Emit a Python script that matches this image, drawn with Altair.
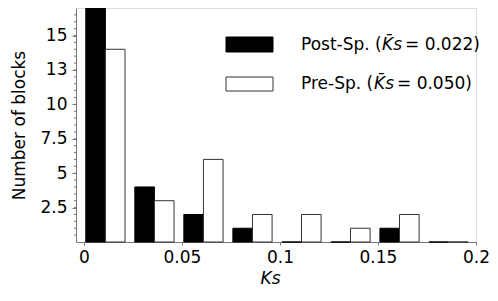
import altair as alt
import pandas as pd

# ---- data ----
bin_starts = [0.0, 0.025, 0.05, 0.075, 0.1, 0.125, 0.15, 0.175]
post_counts = [17, 4, 2, 1, 0, 0, 1, 0]
pre_counts = [14, 3, 6, 2, 2, 1, 2, 0]
series_names = ["Post-Sp.", "Pre-Sp."]
legend_means = ["0.022", "0.050"]
x_ticks = [0, 0.05, 0.1, 0.15, 0.2]
y_ticks = [2.5, 5, 7.5, 10, 12.5, 15]
y_minor = [v / 2 for v in range(1, 34)]

FONT = "DejaVu Sans"
FS = 17
AX = "#777777"

rows = []
for b, c in zip(bin_starts, post_counts):
    rows.append({"series": series_names[0], "x0": b + 0.001, "x1": b + 0.011, "count": c})
for b, c in zip(bin_starts, pre_counts):
    rows.append({"series": series_names[1], "x0": b + 0.011, "x1": b + 0.021, "count": c})
df = pd.DataFrame(rows)

xscale = alt.Scale(domain=[-0.004, 0.2], nice=False, zero=False)
yscale = alt.Scale(domain=[0, 17], nice=False)

bars = alt.Chart(df).mark_rect(strokeWidth=1).encode(
    x=alt.X("x0:Q", scale=xscale, axis=alt.Axis(
        values=x_ticks, format="~g", title="Ks", titleFontStyle="italic",
        titleFont=FONT, titleFontSize=FS, titleFontWeight="normal", titleColor="black",
        titleX=194, titleY=36, titleBaseline="middle",
        labelFont=FONT, labelFontSize=FS, labelColor="black", labelPadding=4,
        tickSize=3, tickColor=AX, domainColor=AX, grid=False,
        labelFlush=False, labelOverlap=False)),
    x2="x1:Q",
    y=alt.Y("count:Q", scale=yscale, axis=alt.Axis(
        values=y_ticks, format="~g", title="Number of blocks",
        titleFont=FONT, titleFontSize=FS, titleFontWeight="normal", titleColor="black",
        titleX=-57, titleY=117, titleBaseline="middle", titleAngle=-90,
        labelFont=FONT, labelFontSize=FS, labelColor="black", labelPadding=5,
        tickSize=4, tickColor=AX, domainColor=AX, grid=False,
        labelOverlap=False)),
    y2=alt.datum(0),
    color=alt.Color("series:N", scale=alt.Scale(domain=series_names, range=["black", "white"]), legend=None),
    stroke=alt.Stroke("series:N", scale=alt.Scale(domain=series_names, range=["black", "#333333"]), legend=None),
)

minor = alt.Chart(pd.DataFrame({"v": y_minor})).mark_rule(color=AX, strokeWidth=1).encode(
    y=alt.Y("v:Q", scale=yscale),
    x=alt.value(-2), x2=alt.value(0),
)

# legend
leg = pd.DataFrame({
    "name": series_names,
    "mean": legend_means,
    "fill": ["black", "white"],
    "stroke": ["black", "#333333"],
    "ytop": [29, 69],
    "ybot": [44, 83],
    "ymid": [37, 76],
})
leg["p1"] = leg["name"] + " ("
leg["p2"] = "K\u0304s"
leg["p3"] = " = " + leg["mean"] + ")"

swatch = alt.Chart(leg).mark_rect(strokeWidth=1).encode(
    x=alt.value(150), x2=alt.value(197),
    y=alt.Y("ytop:Q", scale=None), y2=alt.Y2("ybot:Q"),
    fill=alt.Fill("fill:N", scale=None),
    stroke=alt.Stroke("stroke:N", scale=None),
)

def txt(sub, xpos, field, italic=False):
    kw = dict(font=FONT, fontSize=FS, align="left", baseline="middle", color="black")
    if italic:
        kw["fontStyle"] = "italic"
    return alt.Chart(sub).mark_text(**kw).encode(
        x=alt.value(xpos), y=alt.Y("ymid:Q", scale=None), text=f"{field}:N")

t1 = txt(leg, 225, "p1")
t2 = txt(leg.iloc[[0]], 306, "p2", True)
t2b = txt(leg.iloc[[1]], 298, "p2", True)
t3 = txt(leg.iloc[[0]], 329, "p3")
t3b = txt(leg.iloc[[1]], 321, "p3")

chart = alt.layer(bars, minor, swatch, t1, t2, t2b, t3, t3b).resolve_scale(
    fill="independent", stroke="independent"
).properties(
    width=400, height=234,
    autosize=alt.AutoSizeParams(type="none"),
    padding={"left": 68, "top": 0, "right": 14, "bottom": 44},
).configure_view(stroke=None).configure(background="white")

chart.save("out.html", embed_options={"renderer": "svg", "actions": False})
